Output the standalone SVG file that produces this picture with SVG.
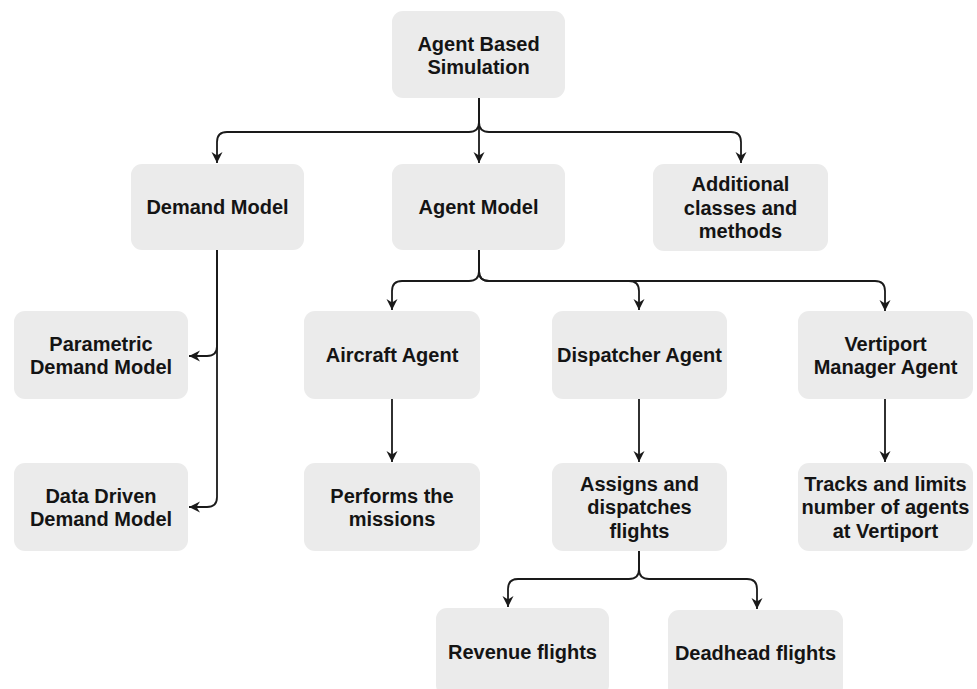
<svg xmlns="http://www.w3.org/2000/svg" width="977" height="689" viewBox="0 0 977 689">
<defs>
<style>
.box{fill:#ebebeb;stroke:none}
.t{font-family:"Liberation Sans",Arial,sans-serif;font-weight:bold;font-size:20px;fill:#141414;text-anchor:middle}
.c{fill:none;stroke:#1a1a1a;stroke-width:1.8}
</style>
<marker id="arr" markerUnits="userSpaceOnUse" markerWidth="13" markerHeight="12" refX="11" refY="6" orient="auto">
<path d="M0,0.5 L11,6 L0,11.5 L3.5,6 z" fill="#1a1a1a"/>
</marker>
</defs>
<rect width="977" height="689" fill="#ffffff"/>
<g id="connectors">
<path class="c" marker-end="url(#arr)" d="M479,98 L479,122 Q479,132 469,132 L227,132 Q217,132 217,142 L217,163"/>
<path class="c" marker-end="url(#arr)" d="M479,98 L479,163"/>
<path class="c" marker-end="url(#arr)" d="M479,98 L479,122 Q479,132 489,132 L731,132 Q741,132 741,142 L741,163"/>
<path class="c" marker-end="url(#arr)" d="M217,250 L217,346 Q217,356 207,356 L189,356"/>
<path class="c" marker-end="url(#arr)" d="M217,250 L217,497 Q217,507 207,507 L189,507"/>
<path class="c" marker-end="url(#arr)" d="M479,250 L479,271 Q479,281 469,281 L402,281 Q392,281 392,291 L392,310"/>
<path class="c" marker-end="url(#arr)" d="M479,250 L479,271 Q479,281 489,281 L629,281 Q639,281 639,291 L639,310"/>
<path class="c" marker-end="url(#arr)" d="M479,250 L479,271 Q479,281 489,281 L875,281 Q885,281 885,291 L885,311"/>
<path class="c" marker-end="url(#arr)" d="M392,399 L392,462"/>
<path class="c" marker-end="url(#arr)" d="M639,399 L639,462"/>
<path class="c" marker-end="url(#arr)" d="M885,399 L885,462"/>
<path class="c" marker-end="url(#arr)" d="M639,551 L639,569 Q639,579 629,579 L518,579 Q508,579 508,589 L508,607"/>
<path class="c" marker-end="url(#arr)" d="M639,551 L639,569 Q639,579 649,579 L747,579 Q757,579 757,589 L757,609"/>
</g>
<g id="agent-based-simulation">
<rect class="box" x="392" y="11" width="173" height="87" rx="11"/>
<text class="t" x="478.5" y="50.5">Agent Based<tspan x="478.5" y="73.5">Simulation</tspan></text>
</g>
<g id="demand-model">
<rect class="box" x="131" y="164" width="173" height="86" rx="11"/>
<text class="t" x="217.5" y="214">Demand Model</text>
</g>
<g id="agent-model">
<rect class="box" x="392" y="164" width="173" height="86" rx="11"/>
<text class="t" x="478.5" y="214">Agent Model</text>
</g>
<g id="additional-classes">
<rect class="box" x="653" y="164" width="175" height="87" rx="11"/>
<text class="t" x="740.5" y="191">Additional<tspan x="740.5" y="214.5">classes and</tspan><tspan x="740.5" y="238">methods</tspan></text>
</g>
<g id="parametric-demand-model">
<rect class="box" x="14" y="311" width="174" height="88" rx="11"/>
<text class="t" x="101" y="351">Parametric<tspan x="101" y="374">Demand Model</tspan></text>
</g>
<g id="data-driven-demand-model">
<rect class="box" x="14" y="463" width="174" height="88" rx="11"/>
<text class="t" x="101" y="503">Data Driven<tspan x="101" y="526">Demand Model</tspan></text>
</g>
<g id="aircraft-agent">
<rect class="box" x="304" y="311" width="176" height="88" rx="11"/>
<text class="t" x="392" y="362">Aircraft Agent</text>
</g>
<g id="dispatcher-agent">
<rect class="box" x="552" y="311" width="175" height="88" rx="11"/>
<text class="t" x="639.5" y="362">Dispatcher Agent</text>
</g>
<g id="vertiport-manager-agent">
<rect class="box" x="798" y="311" width="175" height="88" rx="11"/>
<text class="t" x="885.5" y="351">Vertiport<tspan x="885.5" y="374">Manager Agent</tspan></text>
</g>
<g id="performs-the-missions">
<rect class="box" x="304" y="463" width="176" height="88" rx="11"/>
<text class="t" x="392" y="503">Performs the<tspan x="392" y="526">missions</tspan></text>
</g>
<g id="assigns-and-dispatches">
<rect class="box" x="552" y="463" width="175" height="88" rx="11"/>
<text class="t" x="639.5" y="490.5">Assigns and<tspan x="639.5" y="514">dispatches</tspan><tspan x="639.5" y="537.5">flights</tspan></text>
</g>
<g id="tracks-and-limits">
<rect class="box" x="798" y="463" width="175" height="88" rx="11"/>
<text class="t" x="885.5" y="490.5">Tracks and limits<tspan x="885.5" y="514">number of agents</tspan><tspan x="885.5" y="537.5">at Vertiport</tspan></text>
</g>
<g id="revenue-flights">
<rect class="box" x="436" y="608" width="173" height="88" rx="11"/>
<text class="t" x="522.5" y="659">Revenue flights</text>
</g>
<g id="deadhead-flights">
<rect class="box" x="668" y="610" width="175" height="88" rx="11"/>
<text class="t" x="755.5" y="660">Deadhead flights</text>
</g>
</svg>
